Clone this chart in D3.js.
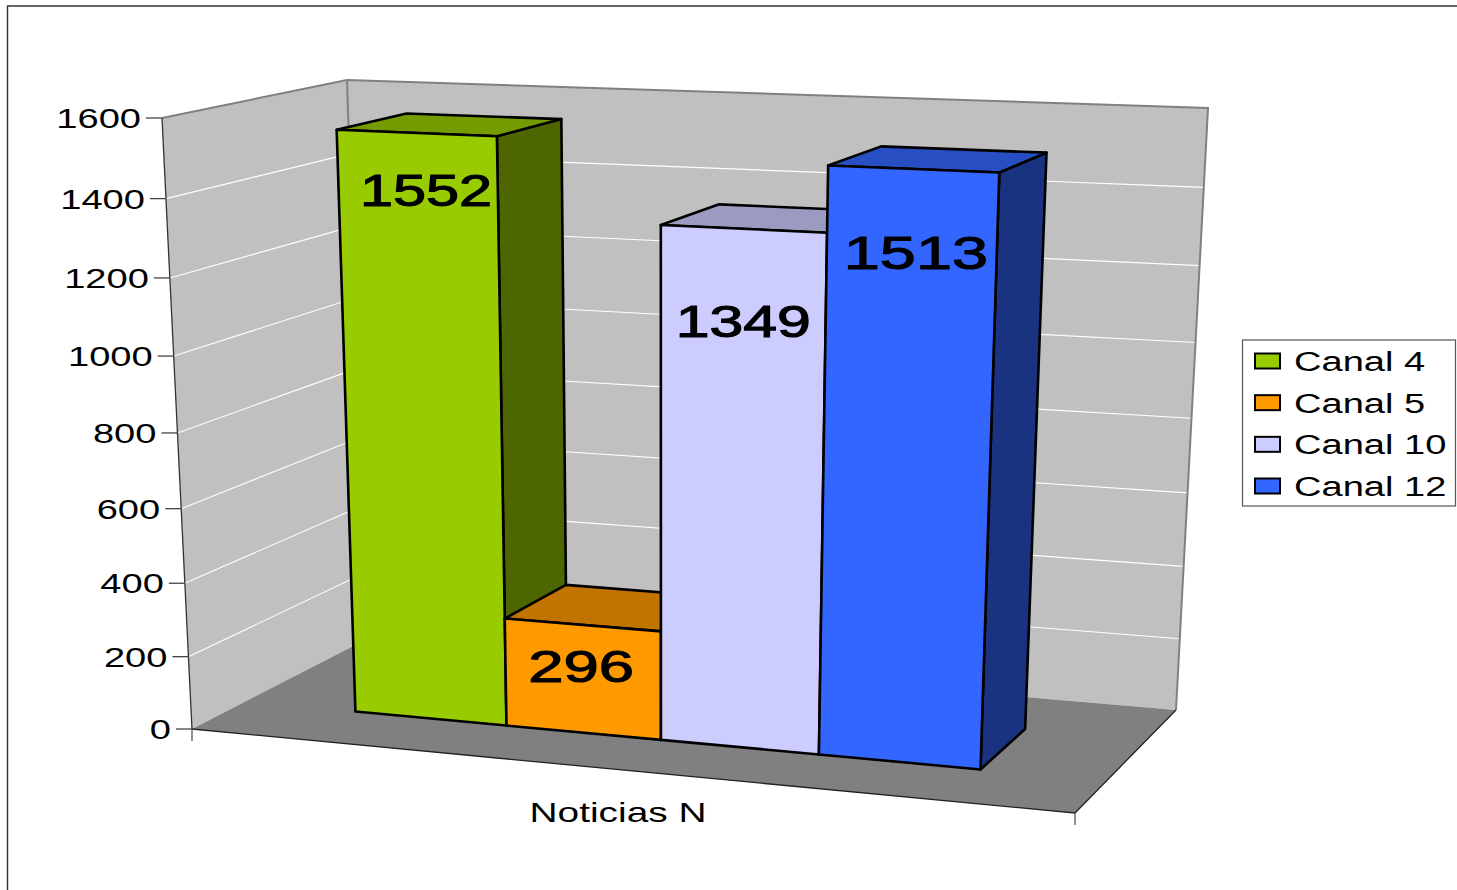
<!DOCTYPE html>
<html><head><meta charset="utf-8">
<script src="https://cdn.jsdelivr.net/npm/d3@7/dist/d3.min.js"></script>
<style>html,body{margin:0;padding:0;background:#fff;overflow:hidden}svg{display:block}
text{font-family:"Liberation Sans",Arial,sans-serif;fill:#000}</style></head><body>
<svg id="c" width="1457" height="890"></svg>
<script>
const categories = ["Canal 4","Canal 5","Canal 10","Canal 12"];
const values = [1552,296,1349,1513];
const colors = ["#99cc00","#ff9900","#ccccff","#3366ff"];
const tickValues = [0,200,400,600,800,1000,1200,1400,1600];
const xLabel = "Noticias N";

// layout: image of the chart's box corners (f=front, b=back; l/r; 0=floor, 1=top)
const box = {f0l:[192,729],f0r:[1075,813],f1l:[162,118],f1r:[1101,156],
             b0l:[365,640],b0r:[1176,710],b1l:[347,80],b1r:[1208,108]};
const persp = (w)=> (s)=> w*s/(1+(w-1)*s);
const warpU = persp(.94), warpV = persp(.94), warpT = persp(1.1);
const lerp = (p,q,s)=>[p[0]+(q[0]-p[0])*s,p[1]+(q[1]-p[1])*s];
// u across, v up, t into the picture, all 0..1
function P(u,v,t){
  const a=warpU(u),b=warpV(v),c=warpT(t);
  const f=lerp(lerp(box.f0l,box.f0r,a),lerp(box.f1l,box.f1r,a),b);
  const k=lerp(lerp(box.b0l,box.b0r,a),lerp(box.b1l,box.b1r,a),b);
  return lerp(f,k,c);
}
const yS = d3.scaleLinear().domain([0,1600]).range([0,1]);
const xS = d3.scaleBand().domain(categories).range([.1346,.8614]).padding(0);
const depth = [.29,.69];
const line = d3.line();
const poly = pts => line(pts)+"Z";
const svg = d3.select("#c");

// page frame
svg.append("path").attr("d","M7.5,890V6H1457").attr("fill","none").attr("stroke","#333").attr("stroke-width",1.4);

// walls and floor
const wall = svg.append("g");
wall.append("path").attr("d",poly([P(0,0,0),P(0,1,0),P(0,1,1),P(0,0,1)])).attr("fill","#c0c0c0");
wall.append("path").attr("d",poly([P(0,0,1),P(0,1,1),P(1,1,1),P(1,0,1)])).attr("fill","#c0c0c0");
wall.append("path").attr("d",poly([P(0,0,0),P(0,0,1),P(1,0,1),P(1,0,0)])).attr("fill","#808080");
// gridlines
wall.selectAll(".g").data(tickValues.slice(1,-1)).join("path").attr("class","g")
  .attr("d",d=>line([P(0,yS(d),0),P(0,yS(d),1),P(1,yS(d),1)]))
  .attr("fill","none").attr("stroke","#fff").attr("stroke-width",1.1);
// wall edges
wall.append("path").attr("d",line([P(0,1,0),P(0,1,1),P(1,1,1),P(1,0,1)])).attr("fill","none").attr("stroke","#808080").attr("stroke-width",2);
wall.append("path").attr("d",line([P(0,1,1),P(0,0,1)])).attr("fill","none").attr("stroke","#808080").attr("stroke-width",2);
wall.append("path").attr("d",line([P(0,1,0),P(0,0,0)])).attr("fill","none").attr("stroke","#333").attr("stroke-width",1.3);
wall.append("path").attr("d",line([P(0,0,0),P(1,0,0),P(1,0,1)])).attr("fill","none").attr("stroke","#222").attr("stroke-width",1.3);
// axis ticks
wall.selectAll(".t").data(tickValues).join("path").attr("class","t")
  .attr("d",d=>{const p=P(0,yS(d),0);return `M${p[0]-16},${p[1]}H${p[0]}`;})
  .attr("stroke","#444").attr("stroke-width",1.3);
[0,1].forEach(u=>{const p=P(u,0,0);
  wall.append("path").attr("d",`M${p[0]},${p[1]}v12`).attr("stroke","#555").attr("stroke-width",1.3);});

// stretched text helper
function label(g,str,x,y,size,anchor,sx,extra){
  return g.append("text").text(str).attr("transform",`translate(${x},${y}) scale(${sx},1)`)
    .attr("font-size",size).attr("text-anchor",anchor).attr("dominant-baseline","central")
    .attr("stroke",extra?"#000":"none").attr("stroke-width",extra||0);
}
const tg = svg.append("g");
tickValues.forEach(d=>{const p=P(0,yS(d),0);label(tg,d,p[0]-21,p[1]+.5,27,"end",1.41);});
label(tg,xLabel,618,813,27,"middle",1.44);

// bars
const bars = svg.selectAll(".bar").data(categories.map((c,i)=>({c,v:values[i],col:colors[i]}))).join("g").attr("class","bar");
const corners = d=>{const a=xS(d.c),b=a+xS.bandwidth(),h=yS(d.v),[n,f]=depth;
  return {a,b,h,n,f};};
const shade=(col,k)=>{const c=d3.rgb(col);return d3.rgb(c.r*k,c.g*k,c.b*k).formatHex();};
const st = s=>s.attr("stroke","#000").attr("stroke-width",2.6).attr("stroke-linejoin","round");
bars.append("path").attr("d",d=>{const q=corners(d);return poly([P(q.b,0,q.n),P(q.b,q.h,q.n),P(q.b,q.h,q.f),P(q.b,0,q.f)]);})
  .attr("fill",d=>shade(d.col,.5)).call(st);
bars.append("path").attr("d",d=>{const q=corners(d);return poly([P(q.a,q.h,q.n),P(q.a,q.h,q.f),P(q.b,q.h,q.f),P(q.b,q.h,q.n)]);})
  .attr("fill",d=>shade(d.col,.76)).call(st);
bars.append("path").attr("d",d=>{const q=corners(d);return poly([P(q.a,0,q.n),P(q.a,q.h,q.n),P(q.b,q.h,q.n),P(q.b,0,q.n)]);})
  .attr("fill",d=>d.col).call(st);

// value labels: placement relative to the bar's top edge
const labelDrop = [58,42,93,84];
const labelShift = [9.7,-1.3,-.3,2.7];
const labelSize = [44,45,44,47];
const labelStretch = [1.35,1.41,1.38,1.38];
const lg = svg.append("g");
bars.each((d,i)=>{const q=corners(d);const p=P(q.a+xS.bandwidth()/2,q.h,q.n);
  label(lg,d.v,p[0]+labelShift[i],p[1]+labelDrop[i],labelSize[i],"middle",labelStretch[i],1.1);});

// legend
const leg = svg.append("g");
leg.append("rect").attr("x",1242.5).attr("y",340).attr("width",213).attr("height",166).attr("fill","#fff").attr("stroke","#555").attr("stroke-width",1.2);
const rowY = d3.scalePoint().domain(categories).range([361,486]);
categories.forEach((c,i)=>{const y=rowY(c);
  leg.append("rect").attr("x",1255).attr("y",y-7.5).attr("width",25).attr("height",15).attr("fill",colors[i]).attr("stroke","#000").attr("stroke-width",2);
  label(leg,c,1294,y+.5,27,"start",1.41);
});
</script></body></html>
